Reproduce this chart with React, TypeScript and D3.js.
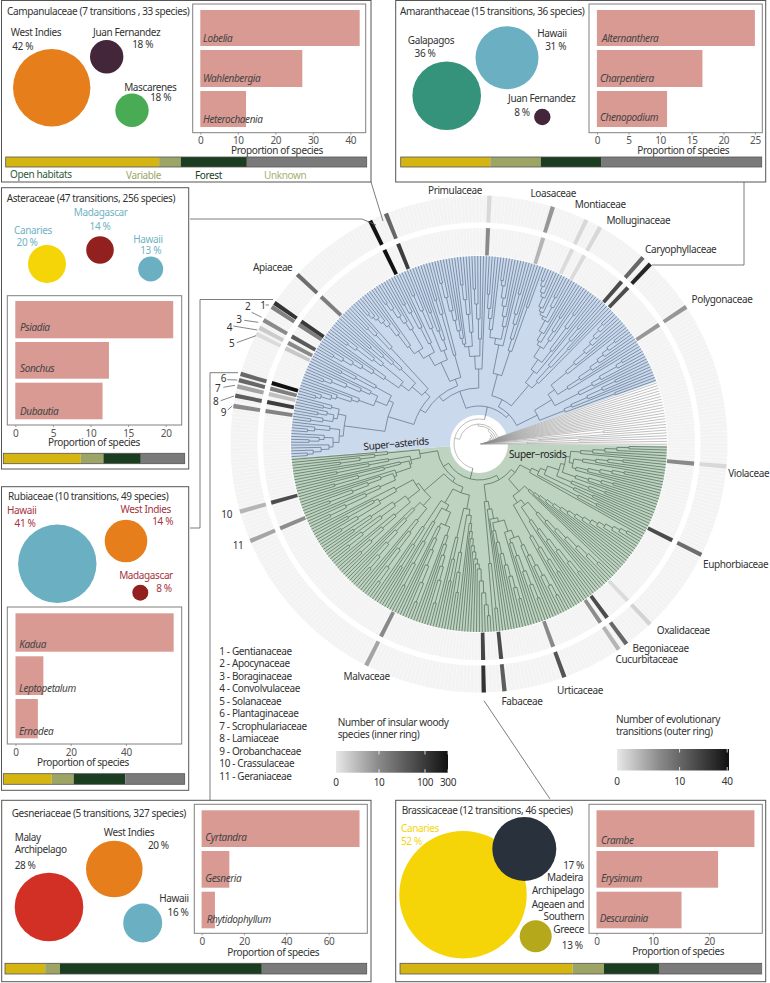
import React, { useEffect, useRef } from 'react';
import * as d3 from 'd3';

// ---------- tree: depth at which neighbouring tips join, read clade by clade (clockwise) ----------
const rosidClades = [
  [150,138,126,114,102,92,145,130,118,105,96,148,136,124,112,100,88,140,128,115,102,84,135,118,100,72,125,105,66,132,112,58],
  [172,165,158,150,143,136,128,120,112,104,96,88,80,74,68,62,168,155,142,128,115,102,90,76,162,148,132,118,104,92,70,150,135,120,106],
  [170,158,146,134,122,110,100,165,150,135,118,104,92,80,160,148,136,124,112,100,88,76,66,58,165,120],
  [172,161,149,137,125,120,115,108,102,95,88,80,72,150,130,110,66,140,118,96],
  [165,142,128,117,106,97,88,170,150,132,116,104,92,74,160,136,112,90,68,145,120,100],
  [170,153,132,112,98,83,165,150,135,120,105,92,72,160,145,128,110,90,165,147,122,104,152,130,75,162,142,115,150,120,95],
  [165,147,124,108,91,160,135,118,104,88,72,150,125,98,81,70,145,112,92,60,140,120,105,92],
];
const rosidJoins = [46, 41, 36, 52, 46, 42];
const asteridClades = [
  [172,166,158,150,146,170,160,155,140,172,165,150,136,170,158,148,164,155,144,160,152],
  [170,165,155,150,135,128,112,168,160,145,130,120,100,155,140,118],
  [170,160,150,140,128,115,98,165,155,135,125,88,145,130,118,108,75,160,150,130],
  [170,165,161,155,149,136,120,111,168,160,150,142,133,102,158,148,130,112,90,162,145,125,100,140,120,110,69,150,135,92],
  [165,150,136,126,115,107,101,98,160,145,130,112,88,155,140,125,105,75],
  [150,136,126,115,107,165,160,148,140,130,120,101,72,155,135,125,110,98,145],
  [175,170,164,160,150,146,143,165,155,140,128,119,115,150,135,125,103,160,145,118,91,77,152,138,105,130,85],
  [172,165,157,150,140,125,113,93,170,160,153,145,135,120,105,85,165,158,138,128,112,65,150,135,118,100,92,145],
];
const asteridJoins = [95, 68, 62, 56, 38, 50, 42];
const basalGrade = [18,16,14,12,11,10,9,8,7,6,5,5,4,4,3,125,3,60,2,100,48,1];
const rosidAsteridJoin = 25;
const basalJoin = 20;

// ---------- rings ----------
const families = ['Primulaceae','Loasaceae','Montiaceae','Molluginaceae','Caryophyllaceae','Caryophyllaceae b','Polygonaceae','Violaceae','Euphorbiaceae','Oxalidaceae','Begoniaceae','Cucurbitaceae','Urticaceae','Fabaceae a','Fabaceae b','Malvaceae','Geraniaceae','Crassulaceae','Orobanchaceae','Lamiaceae','Scrophulariaceae','Scrophulariaceae b','Plantaginaceae','Solanaceae','Convolvulaceae','Boraginaceae','Apocynaceae','Gentianaceae','Apiaceae','Campanulaceae','Asteraceae'];
const familyAngles = [2.4,17.3,25.6,29.2,41.3,43.6,56.5,95.2,116.5,136.5,143.6,145.8,159.9,174.1,178.9,207,247,254.2,278.8,281.2,283.4,284.9,286.4,296.3,297.9,299.9,303.5,304.6,313,334,338];
const insularSpecies = [10,3,0.5,0.5,60,60,7,10,60,0.5,60,9,10,60,70,10,9,60,12,90,2,14,300,1.5,10,40,14,100,14,300,90];
const transitions = [0.5,4,0.5,0.5,10,30,4,0.5,9,0.7,10,2,14,12,25,3,3,2,5,12,3,10,10,0.4,1,5,6,24,9,40,10];

// ---------- panels ----------
const campanulaceaeIslands = ['West Indies','Juan Fernandez','Mascarenes'];
const campanulaceaeShares = [42,18,18];
const campanulaceaeSizes = [38.7,16.7,16.7];
const campanulaceaeGenera = ['Lobelia','Wahlenbergia','Heterochaenia'];
const campanulaceaeProportions = [42.5,27.2,12.2];
const campanulaceaeHabitats = [42.5,6,18.3,33.2];

const amaranthaceaeIslands = ['Galapagos','Hawaii','Juan Fernandez'];
const amaranthaceaeShares = [36,31,8];
const amaranthaceaeSizes = [34.3,31.5,8.2];
const amaranthaceaeGenera = ['Alternanthera','Charpentiera','Chenopodium'];
const amaranthaceaeProportions = [25,16.7,11.1];
const amaranthaceaeHabitats = [24.8,14,16.7,44.5];

const asteraceaeIslands = ['Canaries','Madagascar','Hawaii'];
const asteraceaeShares = [20,14,13];
const asteraceaeSizes = [19,13.8,12.5];
const asteraceaeGenera = ['Psiadia','Sonchus','Dubautia'];
const asteraceaeProportions = [21,12.45,11.6];
const asteraceaeHabitats = [42.7,12.5,20.6,24.2];

const rubiaceaeIslands = ['Hawaii','West Indies','Madagascar'];
const rubiaceaeShares = [41,14,8];
const rubiaceaeSizes = [39.2,21.3,8];
const rubiaceaeGenera = ['Kadua','Leptopetalum','Ernodea'];
const rubiaceaeProportions = [57.3,10.1,8.1];
const rubiaceaeHabitats = [26.7,12.1,28.4,32.8];

const gesneriaceaeIslands = ['Malay Archipelago','West Indies','Hawaii'];
const gesneriaceaeShares = [28,20,16];
const gesneriaceaeSizes = [34.3,28.3,19.5];
const gesneriaceaeGenera = ['Cyrtandra','Gesneria','Rhytidophyllum'];
const gesneriaceaeProportions = [74.6,13.1,6.3];
const gesneriaceaeHabitats = [11.1,4.1,55.8,29];

const brassicaceaeIslands = ['Canaries','Madeira Archipelago','Ageaen and Southern Greece'];
const brassicaceaeShares = [52,17,13];
const brassicaceaeSizes = [63.7,32,16];
const brassicaceaeGenera = ['Crambe','Erysimum','Descurainia'];
const brassicaceaeProportions = [28.05,21.6,15.1];
const brassicaceaeHabitats = [47.7,8.7,15.2,28.3];

const keyFamilies = ['1 - Gentianaceae','2 - Apocynaceae','3 - Boraginaceae','4 - Convolvulaceae','5 - Solanaceae','6 - Plantaginaceae','7 - Scrophulariaceae','8 - Lamiaceae','9 - Orobanchaceae','10 - Crassulaceae','11 - Geraniaceae'];
const insularLegendTicks = [0,10,100,300];
const transitionLegendTicks = [0,10,40];

// ---------- styles and layout ----------
const FONT = '"Noto Sans", sans-serif';
const TEXT = '#333';
const SIZE = 10;
const habitatColors = ['#d4b512','#9da566','#1a3e1f','#7a7a7a'];
const BAR = '#d89a93';
const cx = 479, cy = 444;
const rHole = 29, rTips = 188, rInner0 = 188.7, rInner1 = 216, rOuter0 = 221.5, rOuter1 = 248.5;

const deg = (d: number) => (d * Math.PI) / 180;
const pt = (a: number, r: number): [number, number] => [cx + r * Math.sin(deg(a)), cy - r * Math.cos(deg(a))];

const interleave = (groups: number[][], joins: number[]) =>
  groups.flatMap((g, i) => (i < joins.length ? [...g, joins[i]] : g));
const rosidDepths = interleave(rosidClades, rosidJoins);
const asteridDepths = interleave(asteridClades, asteridJoins);
const depths = [...rosidDepths, rosidAsteridJoin, ...asteridDepths, basalJoin, ...basalGrade];
const nRosid = rosidDepths.length + 1, nAsterid = asteridDepths.length + 1, nBasal = basalGrade.length + 1;
const nTips = nRosid + nAsterid + nBasal;
const tipAngle = d3.scaleLinear().domain([0, nRosid, nRosid + nAsterid, nTips]).range([90.5, 265.7, 430.6, 450.5]);
const radius = d3.scaleLinear().domain([0, 188]).range([0, rTips]);

type Raw = { lo: number; hi: number; depth: number; children?: Raw[] };
function build(lo: number, hi: number): Raw {
  if (lo === hi) return { lo, hi, depth: 188 };
  let m = Infinity;
  for (let i = lo; i < hi; i++) m = Math.min(m, depths[i]);
  const kids: Raw[] = [];
  let s = lo;
  for (let i = lo; i < hi; i++) if (depths[i] === m) { kids.push(build(s, i)); s = i + 1; }
  kids.push(build(s, hi));
  return { lo, hi, depth: m, children: kids };
}
const root = d3.hierarchy(build(0, nTips - 1));
const ang = new Map<any, number>();
root.eachAfter((n: any) => {
  if (!n.children) ang.set(n, tipAngle(n.data.lo + 0.5));
  else ang.set(n, (ang.get(n.children[0])! + ang.get(n.children[n.children.length - 1])!) / 2);
});
const BASAL = '#8c8c8c';
const regionColor = (d: Raw) => {
  if (d.hi < nRosid) return '#4c6655';
  if (d.lo >= nRosid && d.hi < nRosid + nAsterid) return '#5a6f88';
  return BASAL;
};
const treeByColor = new Map<string, ReturnType<typeof d3.path>>();
const getPath = (c: string) => { if (!treeByColor.has(c)) treeByColor.set(c, d3.path()); return treeByColor.get(c)!; };
root.descendants().forEach((n: any) => {
  const p = getPath(regionColor(n.data));
  const r = radius(n.data.depth);
  if (n.children) {
    const a0 = ang.get(n.children[0])!, a1 = ang.get(n.children[n.children.length - 1])!;
    const [sx, sy] = pt(a0, r);
    p.moveTo(sx, sy);
    p.arc(cx, cy, r, deg(a0 - 90), deg(a1 - 90));
  }
  if (n.parent) {
    const a = ang.get(n)!;
    const [x0, y0] = pt(a, radius(n.parent.data.depth));
    const [x1, y1] = pt(a, r);
    p.moveTo(x0, y0);
    p.lineTo(x1, y1);
  }
});

const arcGen = d3.arc<any>();
const sector = (r0: number, r1: number, a0: number, a1: number) =>
  arcGen({ innerRadius: r0, outerRadius: r1, startAngle: deg(a0), endAngle: deg(a1) }) as string;

const insularGrey = d3.scaleSymlog().constant(1.5).domain([0, 300]).range([0, 1]);
const transitionGrey = d3.scaleSymlog().constant(2.5).domain([0, 42]).range([0, 1]);
const greyRamp = d3.scaleLinear<string>().domain([0, 0.38, 0.79, 1]).range(['#e8e8e8', '#8a8a8a', '#3a3a3a', '#111111']);

function T({ x, y, a = 'start', s = SIZE, c = TEXT, i = false, r, children, ls = -0.38 }: any) {
  return (
    <text x={x} y={y} textAnchor={a} fontSize={s} fill={c} fontStyle={i ? 'italic' : 'normal'} fontFamily={FONT}
      letterSpacing={ls} dominantBaseline="central" transform={r ? `rotate(${r} ${x} ${y})` : undefined}>{children}</text>
  );
}

function XAxis({ scale, y, ticks }: any) {
  const ref = useRef<SVGGElement>(null);
  useEffect(() => {
    const g = d3.select(ref.current!);
    g.call(d3.axisBottom(scale).tickValues(ticks).tickFormat(d3.format('d') as any).tickSize(2).tickPadding(2.5) as any);
    g.select('.domain').remove();
    g.selectAll('line').attr('stroke', '#777').attr('stroke-width', 0.7);
    g.selectAll('text').attr('font-size', SIZE).attr('font-family', FONT).attr('fill', '#555').attr('letter-spacing', -0.3);
  }, []);
  return <g ref={ref} transform={`translate(0,${y})`} />;
}

type PanelProps = {
  title: string; tx: number; ty: number;
  box: number[]; plot: number[];
  x0: number; unit: number; ticks: number[];
  barY: number[][];
  genera: string[]; values: number[]; genusPos: number[][];
  tickY: number; axisTitleY: number; axisTitleX: number;
  habitats: number[]; hab: number[];
  sizes: number[]; circles: number[][]; colors: string[];
  labels: any[]; labelColor?: string;
};

function Panel(p: PanelProps) {
  const xs = d3.scaleLinear().domain([0, 1]).range([p.x0, p.x0 + p.unit]);
  const habScale = d3.scaleLinear().domain([0, 100]).range([p.hab[0], p.hab[1]]);
  const cum = d3.cumsum(p.habitats);
  return (
    <g>
      <rect x={p.box[0]} y={p.box[1]} width={p.box[2] - p.box[0]} height={p.box[3] - p.box[1]} fill="#fff" stroke="#555" strokeWidth={1} />
      <rect x={p.plot[0]} y={p.plot[1]} width={p.plot[2] - p.plot[0]} height={p.plot[3] - p.plot[1]} fill="#fff" stroke="#808080" strokeWidth={1} />
      <T x={p.tx} y={p.ty}>{p.title}</T>
      {p.values.map((v, i) => (
        <rect key={i} x={xs(0)} y={p.barY[i][0]} width={xs(v) - xs(0)} height={p.barY[i][1] - p.barY[i][0]} fill={BAR} />
      ))}
      {p.genera.map((g, i) => (
        <T key={g} x={p.genusPos[i][0]} y={p.genusPos[i][1]} i c="#444">{g}</T>
      ))}
      <XAxis scale={xs} y={p.plot[3]} ticks={p.ticks} />
      <T x={p.axisTitleX} y={p.axisTitleY} a="middle">Proportion of species</T>
      {p.habitats.map((v, i) => (
        <rect key={i} x={habScale(i ? cum[i - 1] : 0)} y={p.hab[2]} width={habScale(v) - habScale(0)} height={p.hab[3] - p.hab[2]} fill={habitatColors[i]} />
      ))}
      <rect x={p.hab[0]} y={p.hab[2]} width={p.hab[1] - p.hab[0]} height={p.hab[3] - p.hab[2]} fill="none" stroke="#555" strokeWidth={0.8} />
      {p.sizes.map((r, i) => (
        <circle key={i} cx={p.circles[i][0]} cy={p.circles[i][1]} r={r} fill={p.colors[i]} />
      ))}
      {p.labels.map((l, i) => (
        <T key={i} x={l[1]} y={l[2]} a={l[3] || 'middle'} c={l[4] || p.labelColor || TEXT}>{l[0]}</T>
      ))}
    </g>
  );
}

const pct = (v: number) => `${v} %`;
const ORANGE = '#e67e1b', HAWAII = '#6bb0c2', JF = '#43263a', YELLOW = '#f5d507', MADA = '#92201f';
const bars1 = [[10, 46], [50, 87], [91, 127]];
const bars2 = [[810.3, 847], [851, 887.7], [891.7, 928.3]];

const panels: PanelProps[] = [
  {
    title: 'Campanulaceae (7 transitions , 33 species)', tx: 7, ty: 10.7, box: [1.5, 0.5, 371, 182], plot: [192.7, 4, 365.7, 132.7],
    x0: 200.3, unit: 3.75, ticks: [0, 10, 20, 30, 40], barY: bars1, genera: campanulaceaeGenera, values: campanulaceaeProportions,
    genusPos: [[203, 37.7], [203, 78], [203, 118.7]], tickY: 141, axisTitleY: 150, axisTitleX: 277,
    habitats: campanulaceaeHabitats, hab: [5.7, 366.7, 157, 167], sizes: campanulaceaeSizes,
    circles: [[51.7, 87.7], [106.7, 56.7], [132, 110.3]], colors: [ORANGE, JF, '#4aab55'],
    labels: [
      [campanulaceaeIslands[0], 36, 32.3], [pct(campanulaceaeShares[0]), 22.7, 46],
      [campanulaceaeIslands[1], 126.7, 32.3], [pct(campanulaceaeShares[1]), 142.7, 43.7],
      [campanulaceaeIslands[2], 150.3, 86.7], [pct(campanulaceaeShares[2]), 160.7, 97.3],
      ['Open habitats', 10, 174, 'start', '#2f5a3c'], ['Variable', 126, 175, 'start', '#9da566'],
      ['Forest', 195, 175, 'start', '#1a3e1f'], ['Unknown', 264, 175, 'start', '#a8b070'],
    ],
  },
  {
    title: 'Amaranthaceae (15 transitions, 36 species)', tx: 400, ty: 10.7, box: [395.7, 0.5, 765.7, 182], plot: [589, 4, 762.3, 132.7],
    x0: 596.9, unit: 6.32, ticks: [0, 5, 10, 15, 20, 25], barY: bars1, genera: amaranthaceaeGenera, values: amaranthaceaeProportions,
    genusPos: [[602, 37.7], [600, 78], [600, 117]], tickY: 141, axisTitleY: 150.3, axisTitleX: 683.3,
    habitats: amaranthaceaeHabitats, hab: [400.7, 761.7, 157, 167], sizes: amaranthaceaeSizes,
    circles: [[446.7, 95.7], [507, 57.7], [542.3, 117]], colors: ['#34937a', HAWAII, JF],
    labels: [
      [amaranthaceaeIslands[0], 431, 40.3], [pct(amaranthaceaeShares[0]), 425, 52.7],
      [amaranthaceaeIslands[1], 552, 33.3], [pct(amaranthaceaeShares[1]), 555.7, 46],
      [amaranthaceaeIslands[2], 541.7, 98], [pct(amaranthaceaeShares[2]), 522, 112.3],
    ],
  },
  {
    title: 'Asteraceae (47 transitions, 256 species)', tx: 6.7, ty: 198.3, box: [1.5, 187.7, 188.7, 469], plot: [7.3, 295.7, 181.7, 425],
    x0: 15.3, unit: 7.52, ticks: [0, 5, 10, 15, 20], barY: [[301, 338.3], [342, 378.7], [382.7, 419.3]], genera: asteraceaeGenera, values: asteraceaeProportions,
    genusPos: [[20, 327], [20, 368.3], [20, 411]], tickY: 433, axisTitleY: 442, axisTitleX: 94,
    habitats: asteraceaeHabitats, hab: [3.3, 184.7, 453.3, 463.7], sizes: asteraceaeSizes,
    circles: [[47, 264], [100, 250], [150.7, 269]], colors: [YELLOW, MADA, HAWAII], labelColor: '#6fb3c4',
    labels: [
      [asteraceaeIslands[0], 33, 230], [pct(asteraceaeShares[0]), 27, 241.7],
      [asteraceaeIslands[1], 100.7, 212.3], [pct(asteraceaeShares[1]), 100, 225.7],
      [asteraceaeIslands[2], 148, 239], [pct(asteraceaeShares[2]), 150.7, 250.3],
    ],
  },
  {
    title: 'Rubiaceae (10 transitions, 49 species)', tx: 8, ty: 495.7, box: [1.5, 486.7, 188.7, 790.3], plot: [7.3, 607, 181.7, 744],
    x0: 15.5, unit: 2.76, ticks: [0, 20, 40], barY: [[613.3, 651.7], [656.3, 695], [699, 738.3]], genera: rubiaceaeGenera, values: rubiaceaeProportions,
    genusPos: [[19.3, 644], [19, 688.3], [19, 731]], tickY: 751.7, axisTitleY: 762.3, axisTitleX: 83,
    habitats: rubiaceaeHabitats, hab: [3.3, 184.7, 773.7, 784.3], sizes: rubiaceaeSizes,
    circles: [[57.3, 563.7], [126, 541], [140.3, 592.7]], colors: [HAWAII, ORANGE, MADA], labelColor: '#a5333d',
    labels: [
      [rubiaceaeIslands[0], 21.7, 510], [pct(rubiaceaeShares[0]), 25, 523.3],
      [rubiaceaeIslands[1], 145.7, 509.3], [pct(rubiaceaeShares[1]), 162.7, 521],
      [rubiaceaeIslands[2], 146, 575.3], [pct(rubiaceaeShares[2]), 164, 587.7],
    ],
  },
  {
    title: 'Gesneriaceae (5 transitions, 327 species)', tx: 11.7, ty: 813, box: [1.7, 800.3, 371, 981.7], plot: [194.3, 804.3, 367.3, 933.3],
    x0: 201.6, unit: 2.117, ticks: [0, 20, 40, 60], barY: bars2, genera: gesneriaceaeGenera, values: gesneriaceaeProportions,
    genusPos: [[205.3, 836.7], [205.3, 878], [206.7, 919.3]], tickY: 940.3, axisTitleY: 951.7, axisTitleX: 273.3,
    habitats: gesneriaceaeHabitats, hab: [5, 366.7, 963.3, 974], sizes: gesneriaceaeSizes,
    circles: [[49, 907], [114.3, 869], [142.7, 923]], colors: ['#d22f25', ORANGE, HAWAII],
    labels: [
      ['Malay', 14.7, 837, 'start'], ['Archipelago', 14.7, 849.3, 'start'], [pct(gesneriaceaeShares[0]), 14.7, 865.3, 'start'],
      [gesneriaceaeIslands[1], 129, 832], [pct(gesneriaceaeShares[1]), 158.3, 845],
      [gesneriaceaeIslands[2], 174, 898.3], [pct(gesneriaceaeShares[2]), 178, 912.3],
    ],
  },
  {
    title: 'Brassicaceae (12 transitions, 46 species)', tx: 401.7, ty: 810.3, box: [395.7, 800.3, 765.7, 981.7], plot: [589, 804.3, 762.3, 933.3],
    x0: 596.5, unit: 5.63, ticks: [0, 10, 20], barY: bars2, genera: brassicaceaeGenera, values: brassicaceaeProportions,
    genusPos: [[601, 839.7], [601, 878], [599.7, 918]], tickY: 940, axisTitleY: 950.7, axisTitleX: 678.3,
    habitats: brassicaceaeHabitats, hab: [400, 761.7, 963.3, 974], sizes: brassicaceaeSizes,
    circles: [[463, 894.7], [524.3, 849], [535.7, 936.3]], colors: [YELLOW, '#29313c', '#b5a81a'],
    labels: [
      [brassicaceaeIslands[0], 401, 827.7, 'start', YELLOW], [pct(brassicaceaeShares[0]), 401, 840.7, 'start', YELLOW],
      [pct(brassicaceaeShares[1]), 584, 865.3, 'end'], ['Madeira', 583, 877, 'end'], ['Archipelago', 584, 889.7, 'end'],
      ['Ageaen and', 584, 904, 'end'], ['Southern', 584, 916.3, 'end'], ['Greece', 584, 929, 'end'],
      [pct(brassicaceaeShares[2]), 582.7, 945.3, 'end'],
    ],
  },
];

const familyLabels: [string, number, number][] = [
  ['Primulaceae', 455, 190.3], ['Loasaceae', 553.3, 192.7], ['Montiaceae', 600.3, 204.3], ['Molluginaceae', 638.3, 220],
  ['Caryophyllaceae', 680.7, 249], ['Polygonaceae', 722, 299], ['Violaceae', 748.7, 473.3], ['Euphorbiaceae', 735.7, 564],
  ['Oxalidaceae', 683.3, 630], ['Begoniaceae', 660.7, 648.3], ['Cucurbitaceae', 646.7, 659], ['Urticaceae', 580, 690],
  ['Fabaceae', 522, 700.7], ['Malvaceae', 366.7, 675.7], ['Apiaceae', 272.7, 266.7],
];
const numberLabels: [string, number, number][] = [
  ['2', 247.7, 306.3], ['3', 239, 318.7], ['4', 229.3, 326.7], ['5', 231.7, 342.7],
  ['6', 223.3, 378.3], ['7', 217.7, 387.7], ['8', 215.7, 401], ['9', 223.3, 411.7], ['10', 226.7, 514], ['11', 238, 545], ['1', 263, 305],
];
const leaders: number[][] = [
  [265.5, 305, 269, 305], [251.7, 312.3, 261.7, 317.3], [244.3, 320.3, 258.3, 322.3], [233.3, 326, 257.3, 330], [236.7, 342.7, 256, 335.7],
  [227.3, 379.7, 237.3, 380], [223.3, 387.3, 235, 385.3], [220.7, 400.7, 234, 396], [227.7, 410, 232.3, 406],
];
const connectors: string[] = [
  'M371 182L383 221',
  'M744 182V265H652',
  'M190 219H362L376 225',
  'M190 528H200V299.5H273',
  'M210 800V372.7H238',
  'M484 700.7L550 799',
];

function Legend({ x0, x1, y0, y1, ticks, scale, lines, tx, ty, gid, stops, labelY }: any) {
  const pos = (v: number) => x0 + (x1 - x0) * scale(v);
  return (
    <g>
      <defs>
        <linearGradient id={gid}>
          {stops.map((s: number) => <stop key={s} offset={s} stopColor={greyRamp(s)} />)}
        </linearGradient>
      </defs>
      <T x={tx} y={ty}>{lines[0]}</T>
      <T x={tx} y={ty + 12.4}>{lines[1]}</T>
      <rect x={x0} y={y0} width={x1 - x0} height={y1 - y0} fill={`url(#${gid})`} />
      {ticks.slice(1).map((t: number) => (
        <line key={t} x1={pos(t)} x2={pos(t)} y1={y0} y2={y0 + 3.5} stroke="#fff" strokeWidth={0.8} />
      ))}
      {ticks.slice(1).map((t: number) => (
        <line key={'b' + t} x1={pos(t)} x2={pos(t)} y1={y1 - 3.5} y2={y1} stroke="#fff" strokeWidth={0.8} />
      ))}
      {ticks.map((t: number) => <T key={t} x={pos(t)} y={labelY} a="middle">{t}</T>)}
    </g>
  );
}

export default function App() {
  const ringTips = d3.range(nTips);
  return (
    <svg width={770} height={983} viewBox="0 0 770 983" style={{ position: 'absolute', left: 0, top: 0, display: 'block', background: '#fff' }}>
      {/* rings */}
      <g transform={`translate(${cx},${cy})`}>
        {ringTips.map(i => (
          <g key={i}>
            <path d={sector(rInner0, rInner1, tipAngle(i), tipAngle(i + 1))} fill="#f3f3f3" stroke="#fbfbfb" strokeWidth={0.3} />
            <path d={sector(rOuter0, rOuter1, tipAngle(i), tipAngle(i + 1))} fill="#f3f3f3" stroke="#fbfbfb" strokeWidth={0.3} />
          </g>
        ))}
        {families.map((f, i) => (
          <g key={f}>
            <path d={sector(rInner0, rInner1, familyAngles[i] - 0.55, familyAngles[i] + 0.55)} fill={greyRamp(insularGrey(insularSpecies[i]))} />
            <path d={sector(rOuter0, rOuter1, familyAngles[i] - 0.5, familyAngles[i] + 0.5)} fill={greyRamp(transitionGrey(transitions[i]))} />
          </g>
        ))}
        <path d={sector(rHole, rTips, 90.5, 265.7)} fill="#bfd3c1" />
        <path d={sector(rHole, rTips, 265.7, 430.6)} fill="#cbd9ec" />
      </g>
      {[...treeByColor.entries()].map(([c, p]) => (
        <path key={c} d={p.toString()} fill="none" stroke={c} strokeWidth={c === BASAL ? 0.55 : 0.7} />
      ))}
      <T x={396} y={443.3} a="middle" r={-5} c="#222">Super−asterids</T>
      <T x={509} y={454} c="#222">Super−rosids</T>

      {/* connectors */}
      {connectors.map(d => <path key={d} d={d} fill="none" stroke="#5c5c5c" strokeWidth={0.8} />)}
      <path d="M164 172Q170 171 173 165" fill="none" stroke="#9da566" strokeWidth={0.9} />
      {leaders.map((l, i) => <line key={i} x1={l[0]} y1={l[1]} x2={l[2]} y2={l[3]} stroke="#333" strokeWidth={0.6} />)}

      {panels.map(p => <Panel key={p.title} {...p} />)}

      {familyLabels.map(([t, x, y]) => <T key={t} x={x} y={y} a="middle">{t}</T>)}
      {numberLabels.map(([t, x, y]) => <T key={t} x={x} y={y} a="middle">{t}</T>)}
      {keyFamilies.map((k, i) => <T key={k} x={219.3} y={650.7 + i * 12.5}>{k}</T>)}

      <Legend gid="insular" x0={336} x1={448} y0={751} y1={772.7} ticks={insularLegendTicks} scale={insularGrey}
        lines={['Number of insular woody', 'species (inner ring)']} tx={337.7} ty={721.7} labelY={782.3}
        stops={[0, 0.38, 0.79, 1]} />
      <Legend gid="trans" x0={617} x1={729} y0={749} y1={770.5} ticks={transitionLegendTicks} scale={transitionGrey}
        lines={['Number of evolutionary', 'transitions (outer ring)']} tx={616} ty={718.5} labelY={781}
        stops={[0, 0.38, 0.79, 1]} />
    </svg>
  );
}
